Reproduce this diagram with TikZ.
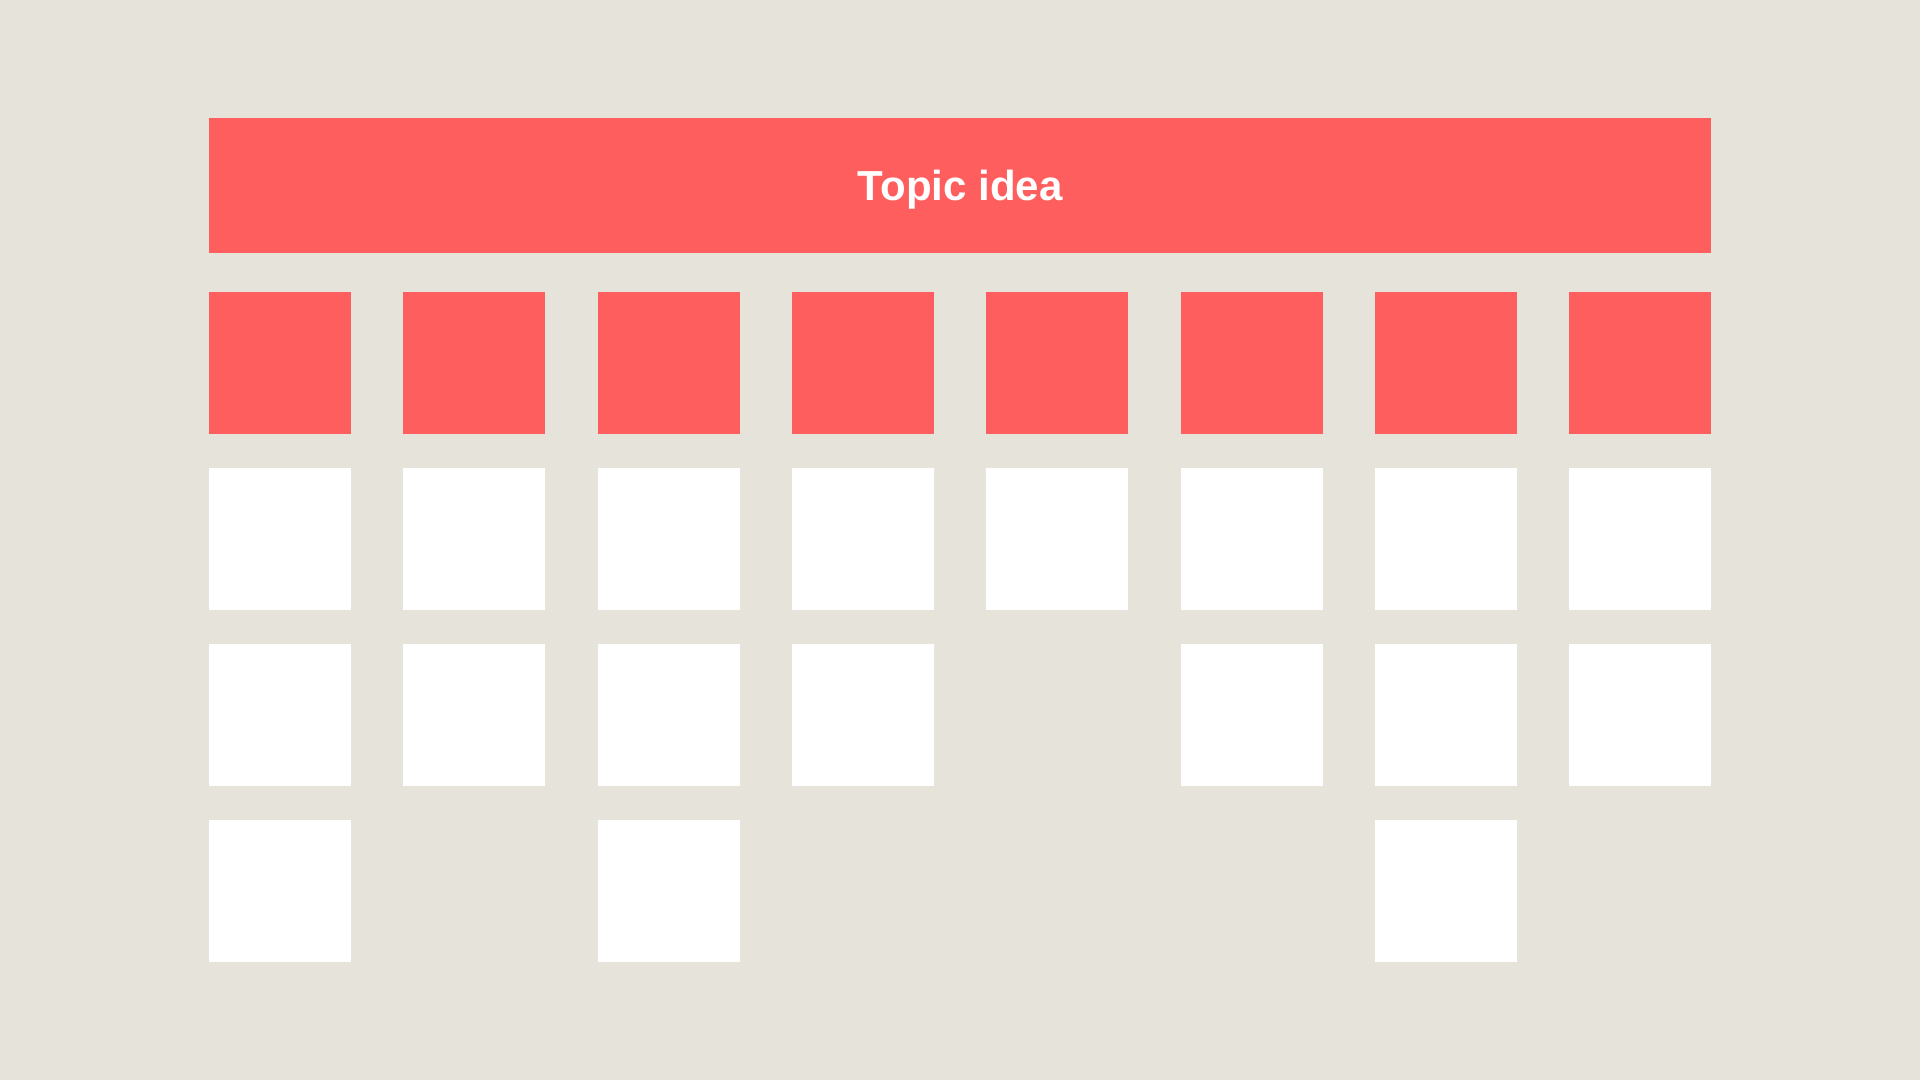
\documentclass[tikz,border=0pt]{standalone}
\usepackage{fontspec}
\setmainfont{Liberation Sans}
\definecolor{bgc}{HTML}{E6E3DB}
\definecolor{redc}{HTML}{FF5E5E}
\tikzset{
  cell/.style={draw=none,minimum width=142pt,minimum height=142pt,inner sep=0pt,anchor=north west},
  redcell/.style={cell,fill=redc},
  whitecell/.style={cell,fill=white},
  header/.style={fill=redc,draw=none,minimum width=1502pt,minimum height=135pt,inner sep=0pt,anchor=north west,text=white,font=\fontsize{42}{48}\selectfont\bfseries,text height=30.1pt,text depth=0pt}
}
\begin{document}
\begin{tikzpicture}[x=1pt,y=-1pt]
\fill[bgc] (0,0) rectangle (1920,1080);
\useasboundingbox (0,0) rectangle (1920,1080);
\node[header] (hdr) at (209,118) {Topic idea};
\foreach \c in {0,...,7}{
  \node[redcell] (r\c) at ({209+\c*194.29},292) {};
  \node[whitecell] (a\c) at ({209+\c*194.29},468) {};
}
\foreach \c in {0,1,2,3,5,6,7}{
  \node[whitecell] (b\c) at ({209+\c*194.29},644) {};
}
\foreach \c in {0,2,6}{
  \node[whitecell] (d\c) at ({209+\c*194.29},820) {};
}
\end{tikzpicture}
\end{document}
